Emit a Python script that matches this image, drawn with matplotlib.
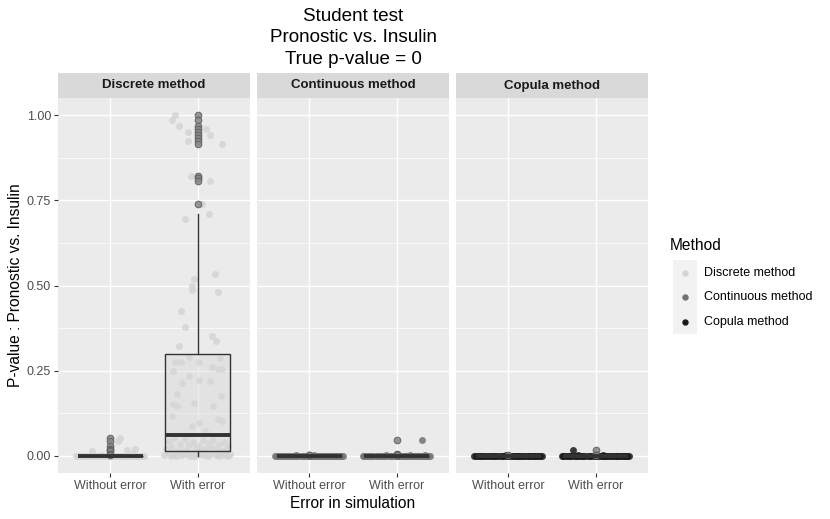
import matplotlib
matplotlib.use('Agg')
import matplotlib.pyplot as plt
from matplotlib.patches import Rectangle
from matplotlib.lines import Line2D

plt.rcParams['font.family'] = ['Liberation Sans', 'DejaVu Sans']

# ---------------- data ----------------
methods = ['Discrete method', 'Continuous method', 'Copula method']
conditions = ['Without error', 'With error']
y_ticks = [0.0, 0.25, 0.50, 0.75, 1.00]
y_tick_labels = ['0.00', '0.25', '0.50', '0.75', '1.00']

# p-values that are essentially zero (shared by many simulation groups)
tiny_vals = [0.0002, 0.0005, 0.0001, 0.0008, 0.0003, 0.0000, 0.0006, 0.0002, 0.0004, 0.0001,
             0.0007, 0.0003, 0.0000, 0.0005, 0.0002, 0.0009, 0.0001, 0.0004, 0.0006, 0.0002,
             0.0003, 0.0000, 0.0008, 0.0001, 0.0005, 0.0002, 0.0004, 0.0007, 0.0001, 0.0003,
             0.0006, 0.0000, 0.0002, 0.0005, 0.0001, 0.0004, 0.0003, 0.0007, 0.0002, 0.0001]
tiny_jit = [-0.37, 0.12, -0.05, 0.31, -0.22, 0.08, 0.36, -0.14, 0.25, -0.31,
            0.02, -0.27, 0.18, -0.09, 0.33, -0.18, 0.06, 0.22, -0.35, 0.14,
            -0.02, 0.29, -0.24, 0.10, -0.12, 0.38, -0.29, 0.04, 0.20, -0.07,
            0.27, -0.33, 0.16, -0.16, 0.35, -0.20, 0.00, 0.24, -0.39, 0.11]

# Discrete method, without error
disc_wo_extra = [0.054, 0.045, 0.030, 0.021, 0.018, 0.015, 0.005, 0.004]
disc_wo_extra_jit = [0.11, 0.09, 0.01, 0.28, 0.19, -0.21, 0.25, -0.10]

# Discrete method, with error
disc_w_top = [1.0, 0.985, 0.968, 0.958, 0.949, 0.941, 0.933, 0.925, 0.915, 0.821, 0.814, 0.807, 0.74]
disc_w_top_jit = [-0.26, -0.29, -0.21, 0.095, -0.11, 0.14, 0.0, -0.11, 0.28, -0.08, 0.01, 0.14, 0.05]
disc_w_upper = [0.709, 0.696, 0.535, 0.520, 0.500, 0.488, 0.480, 0.426, 0.379, 0.351, 0.336, 0.324]
disc_w_upper_jit = [0.13, -0.145, 0.20, -0.04, -0.07, -0.06, 0.23, -0.19, -0.15, 0.16, 0.21, -0.21]
disc_w_mid = [0.290, 0.288, 0.277, 0.276, 0.276, 0.262, 0.256, 0.255, 0.248, 0.236, 0.224, 0.219, 0.213,
              0.181, 0.177, 0.156, 0.152, 0.148, 0.147, 0.117, 0.108, 0.103, 0.097, 0.089, 0.072]
disc_w_mid_jit = [-0.10, 0.26, 0.015, -0.26, -0.195, 0.16, 0.235, 0.28, -0.28, -0.10, 0.02, 0.145, -0.175,
                  -0.24, 0.27, -0.04, -0.28, 0.18, -0.235, -0.295, 0.235, 0.275, 0.015, -0.07, 0.09]
disc_w_low = [0.052, 0.049, 0.047, 0.046, 0.043, 0.041, 0.040, 0.037, 0.035, 0.034, 0.031, 0.030, 0.028,
              0.026, 0.025, 0.023, 0.022, 0.020, 0.019, 0.018, 0.017, 0.016, 0.015, 0.014, 0.0135]
disc_w_low_jit = [-0.27, -0.15, 0.06, 0.18, -0.33, 0.30, -0.05, 0.12, -0.20, 0.25, -0.10, 0.35, 0.02,
                  -0.30, 0.15, -0.02, 0.22, -0.36, 0.08, 0.32, -0.17, -0.24, 0.28, 0.04, -0.12]
disc_w_bottom = [0.012, 0.011, 0.010, 0.0095, 0.0088, 0.008, 0.0075, 0.007, 0.0062, 0.0056, 0.005, 0.0045,
                 0.004, 0.0034, 0.003, 0.0025, 0.002, 0.0016, 0.0012, 0.001, 0.0008, 0.0005, 0.0003, 0.0002, 0.0001]
disc_w_bottom_jit = [0.19, -0.22, 0.33, -0.06, 0.10, -0.34, 0.26, -0.14, 0.03, 0.37, -0.28, 0.14,
                     -0.01, 0.21, -0.38, 0.07, -0.19, 0.30, -0.09, 0.24, -0.31, 0.12, -0.25, 0.35, -0.04]

# Continuous method
cont_wo_extra = [0.0015, 0.002]
cont_wo_extra_jit = [0.05, -0.15]
cont_w_extra = [0.047, 0.006, 0.004, 0.003, 0.0025]
cont_w_extra_jit = [0.29, 0.0, -0.12, 0.15, 0.33]

# Copula method
cop_wo_extra = [0.0015]
cop_wo_extra_jit = [-0.03]
cop_w_extra = [0.0176, 0.004, 0.003]
cop_w_extra_jit = [-0.26, 0.08, -0.20]

groups = {
    ('Discrete method', 'Without error'): (tiny_vals + disc_wo_extra, tiny_jit + disc_wo_extra_jit),
    ('Discrete method', 'With error'): (disc_w_top + disc_w_upper + disc_w_mid + disc_w_low + disc_w_bottom,
                                        disc_w_top_jit + disc_w_upper_jit + disc_w_mid_jit + disc_w_low_jit + disc_w_bottom_jit),
    ('Continuous method', 'Without error'): (tiny_vals + cont_wo_extra, tiny_jit + cont_wo_extra_jit),
    ('Continuous method', 'With error'): (tiny_vals + cont_w_extra, tiny_jit + cont_w_extra_jit),
    ('Copula method', 'Without error'): (tiny_vals + cop_wo_extra, tiny_jit + cop_wo_extra_jit),
    ('Copula method', 'With error'): (tiny_vals + cop_w_extra, tiny_jit + cop_w_extra_jit),
}

method_colors = {'Discrete method': '#d4d4d4', 'Continuous method': '#737373', 'Copula method': '#1a1a1a'}

# ---------------- layout ----------------
W, H = 830, 519
fig = plt.figure(figsize=(W / 100, H / 100), dpi=100)
fig.patch.set_facecolor('white')


def fx(px):
    return px / W


def fy(py):
    return 1 - py / H


panel_left = [58, 257, 456]
panel_w = 192
panel_top, panel_bot, strip_top = 98, 473, 73

for i, m in enumerate(methods):
    ax = fig.add_axes([fx(panel_left[i]), fy(panel_bot), panel_w / W, (panel_bot - panel_top) / H])
    ax.set_facecolor('#ebebeb')
    for s in ax.spines.values():
        s.set_visible(False)

    data = []
    for j, c in enumerate(conditions):
        vals, jit = groups[(m, c)]
        xs = [j + 1 + d for d in jit]
        ax.scatter(xs, vals, s=25, color=method_colors[m], alpha=0.85, linewidths=0, zorder=2)
        data.append(vals)

    ax.boxplot(data, positions=[1, 2], widths=0.75, patch_artist=True, whis=1.5,
               showcaps=False, zorder=3,
               boxprops=dict(facecolor=(0.85, 0.85, 0.85, 0.45), edgecolor='#333333', linewidth=1.0),
               medianprops=dict(color='#333333', linewidth=2.8, solid_capstyle='butt'),
               whiskerprops=dict(color='#333333', linewidth=1.0),
               flierprops=dict(marker='o', markersize=4.8, markerfacecolor='#8a8a8a',
                               markeredgecolor='#5c5c5c', markeredgewidth=0.7, alpha=0.9))

    ax.set_xlim(0.4, 2.6)
    ax.set_ylim(-0.05, 1.05)
    ax.set_yticks(y_ticks)
    ax.set_yticks([0.125, 0.375, 0.625, 0.875], minor=True)
    ax.set_xticks([1, 2])
    ax.set_xticklabels(conditions)
    ax.grid(which='major', color='white', lw=1.0, zorder=0)
    ax.grid(which='minor', axis='y', color='white', lw=0.5, zorder=0)
    ax.set_axisbelow(True)
    ax.tick_params(axis='both', which='major', length=2.9, width=0.8, color='#333333',
                   labelcolor='#4d4d4d', labelsize=9, pad=2)
    ax.tick_params(axis='y', which='minor', length=0)
    if i == 0:
        ax.set_yticklabels(y_tick_labels)
    else:
        ax.tick_params(axis='y', which='major', left=False, labelleft=False)

    sax = fig.add_axes([fx(panel_left[i]), fy(panel_top), panel_w / W, (panel_top - strip_top) / H])
    sax.set_facecolor('#d9d9d9')
    sax.set_xticks([])
    sax.set_yticks([])
    for s in sax.spines.values():
        s.set_visible(False)
    sax.text(0.5, 0.5, m, ha='center', va='center', fontsize=9.5, fontweight='bold',
             color='#1a1a1a', transform=sax.transAxes)

# titles
fig.text(fx(353), fy(8), 'Student test\nPronostic vs. Insulin\nTrue p-value = 0', ha='center', va='top',
         fontsize=13.6, linespacing=1.34, color='black')
fig.text(fx(353), fy(503), 'Error in simulation', ha='center', va='center', fontsize=11.2)
fig.text(fx(16), fy(285.5), 'P-value : Pronostic vs. Insulin', ha='center', va='center',
         rotation=90, fontsize=11.2)

# legend
fig.text(fx(670), fy(245), 'Method', ha='left', va='center', fontsize=11.2)
fig.patches.append(Rectangle((fx(673), fy(334)), 24 / W, 74 / H, transform=fig.transFigure,
                             facecolor='#f2f2f2', edgecolor='none'))
key_y = [272.5, 297, 321.5]
for k, m in enumerate(methods):
    fig.lines.append(Line2D([fx(685)], [fy(key_y[k])], transform=fig.transFigure, marker='o',
                            markersize=4.6, markerfacecolor=method_colors[m], markeredgecolor='none',
                            linestyle='none'))
    fig.text(fx(704), fy(key_y[k]), m, ha='left', va='center', fontsize=9, color='black')

fig.savefig('out.png', dpi=100)
